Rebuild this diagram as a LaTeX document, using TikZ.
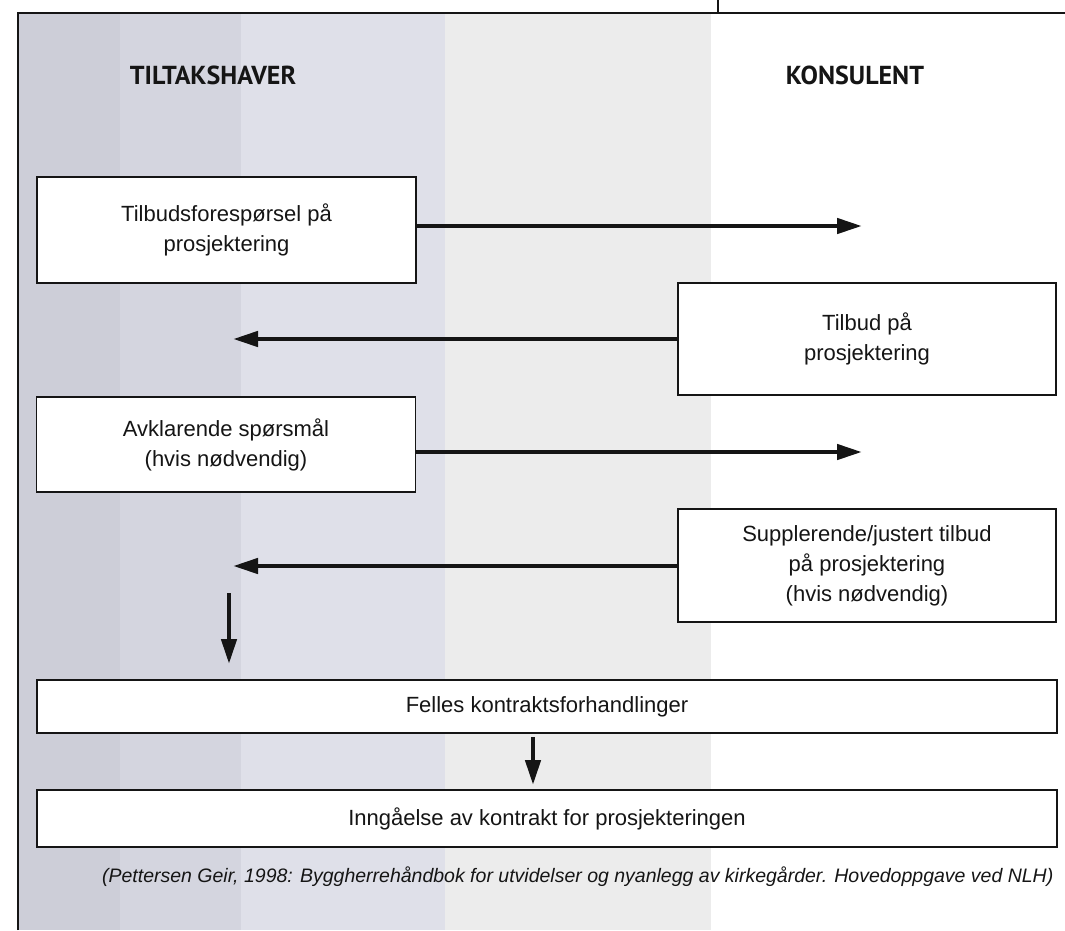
\documentclass[tikz,border=0pt]{standalone}
\usepackage{fontspec}
\setmainfont{Liberation Sans}
\newfontfamily\hdrfont{PT Sans}
\usetikzlibrary{arrows.meta}
\definecolor{ink}{HTML}{151515}
\definecolor{bgA}{HTML}{CDCED8}
\definecolor{bgB}{HTML}{D4D5DF}
\definecolor{bgC}{HTML}{DFE0E9}
\definecolor{bgD}{HTML}{ECECEC}
\tikzset{
  box/.style={draw=ink, line width=1.6pt, fill=white, rectangle, inner sep=0pt,
    align=center, font=\fontsize{22}{30}\selectfont, text=ink},
  flow/.style={draw=ink, line width=4.5pt, -{Triangle[length=25pt,width=15pt]}},
  hdr/.style={font=\hdrfont\bfseries\fontsize{26}{30}\selectfont, text=ink},
  frameline/.style={draw=ink, line width=1.6pt}
}
\begin{document}
\begin{tikzpicture}[x=1pt,y=-1pt]
\useasboundingbox (0,0) rectangle (1065,930);
% scanned background bands
\fill[bgA] (18,14) rectangle (120,930);
\fill[bgB] (120,14) rectangle (241,930);
\fill[bgC] (241,14) rectangle (445,930);
\fill[bgD] (445,14) rectangle (711,930);
% frame
\coordinate (tl) at (18,13);
\coordinate (tr) at (1065,13);
\coordinate (bl) at (18,930);
\coordinate (tk) at (718,0);
\draw[frameline] (bl) -- (tl) -- (tr);
\draw[frameline] (tk) -- (tk |- tl);
% headers
\node[hdr] (h1) at (213,75) {TILTAKSHAVER};
\node[hdr] (h2) at (855,75) {KONSULENT};
% boxes
\node[box, minimum width=379pt, minimum height=106pt] (b1) at (226.5,230) {Tilbudsforespørsel på\\prosjektering};
\node[box, minimum width=378pt, minimum height=112pt] (b2) at (867,339) {Tilbud på\\prosjektering};
\node[box, minimum width=379pt, minimum height=95pt] (b3) at (226,444.5) {Avklarende spørsmål\\(hvis nødvendig)};
\node[box, minimum width=378pt, minimum height=113pt] (b4) at (867,565.5) {Supplerende/justert tilbud\\på prosjektering\\(hvis nødvendig)};
\node[box, minimum width=1020pt, minimum height=53pt] (b5) at (547,706.5) {Felles kontraktsforhandlinger};
\node[box, minimum width=1020pt, minimum height=57pt] (b6) at (547,818.5) {Inngåelse av kontrakt for prosjekteringen};
% arrows
\coordinate (e1) at (862,226);
\coordinate (e2) at (233,339);
\coordinate (e3) at (862,452);
\coordinate (e4) at (233,566);
\coordinate (s1) at (229,593);
\coordinate (t1) at (229,664);
\coordinate (s2) at (533,737);
\coordinate (t2) at (533,785);
\draw[flow] (b1.east |- e1) -- (e1);
\draw[flow] (b2.west |- e2) -- (e2);
\draw[flow] (b3.east |- e3) -- (e3);
\draw[flow] (b4.west |- e4) -- (e4);
\draw[flow] (s1) -- (t1);
\draw[flow] (s2) -- (t2);
% citation
\node[font=\itshape\fontsize{19.5}{22}\selectfont, text=ink, anchor=east] (cit) at (1057,877) {(Pettersen Geir, 1998: Byggherrehåndbok for utvidelser og nyanlegg av kirkegårder. Hovedoppgave ved NLH)};
\end{tikzpicture}
\end{document}
